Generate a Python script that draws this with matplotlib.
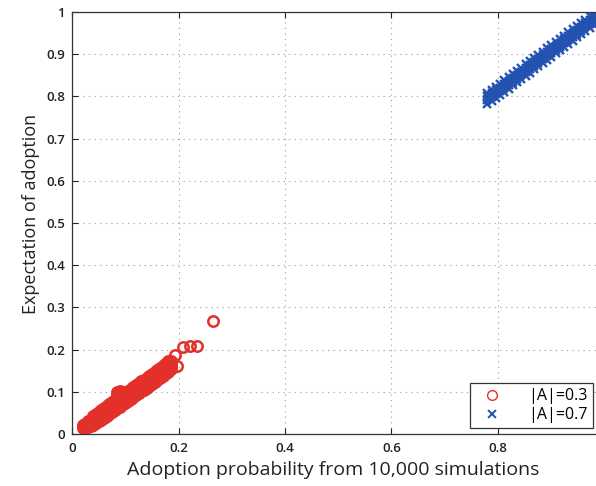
import numpy as np
import matplotlib
matplotlib.use("Agg")
import matplotlib.pyplot as plt
from matplotlib.lines import Line2D

plt.rcParams['font.family'] = ['Open Sans', 'DejaVu Sans']

# ── Data ────────────────────────────────────────────────────
# |A| = 0.3 : dense band near the origin (x column -> y values)
red_cols = [0.020, 0.025, 0.030, 0.035, 0.040, 0.045, 0.050, 0.055, 0.060,
            0.065, 0.070, 0.075, 0.080, 0.085, 0.090, 0.095, 0.100, 0.105,
            0.110, 0.115, 0.120, 0.125, 0.130, 0.135, 0.140, 0.145, 0.150,
            0.155, 0.160, 0.165, 0.170, 0.175, 0.180, 0.185]
red_rows = [[0.014, 0.018, 0.022],
            [0.014, 0.019, 0.024],
            [0.016, 0.021, 0.026, 0.030],
            [0.019, 0.024, 0.029, 0.034],
            [0.022, 0.028, 0.033, 0.038, 0.043],
            [0.026, 0.032, 0.037, 0.042, 0.047],
            [0.030, 0.036, 0.041, 0.046, 0.052],
            [0.034, 0.040, 0.046, 0.051, 0.056],
            [0.039, 0.045, 0.050, 0.056, 0.061],
            [0.043, 0.049, 0.055, 0.060, 0.066],
            [0.047, 0.053, 0.059, 0.065, 0.070],
            [0.052, 0.058, 0.064, 0.069, 0.075],
            [0.056, 0.062, 0.068, 0.074, 0.080],
            [0.061, 0.067, 0.073, 0.079, 0.086, 0.093, 0.099],
            [0.065, 0.071, 0.077, 0.083, 0.089, 0.095, 0.101],
            [0.070, 0.076, 0.082, 0.088, 0.094, 0.100],
            [0.074, 0.080, 0.086, 0.092, 0.098],
            [0.078, 0.084, 0.090, 0.096, 0.102],
            [0.083, 0.089, 0.095, 0.101, 0.107],
            [0.087, 0.093, 0.099, 0.105, 0.111],
            [0.092, 0.098, 0.104, 0.110, 0.116],
            [0.096, 0.102, 0.108, 0.114, 0.120],
            [0.101, 0.107, 0.113, 0.119, 0.125],
            [0.105, 0.111, 0.117, 0.123, 0.129],
            [0.109, 0.115, 0.121, 0.127, 0.133],
            [0.114, 0.120, 0.126, 0.132, 0.138],
            [0.118, 0.124, 0.130, 0.136, 0.142],
            [0.123, 0.129, 0.135, 0.141, 0.147],
            [0.127, 0.133, 0.139, 0.145, 0.151],
            [0.132, 0.138, 0.144, 0.150, 0.156],
            [0.137, 0.143, 0.148, 0.154, 0.160],
            [0.142, 0.148, 0.153, 0.159, 0.165],
            [0.148, 0.154, 0.160, 0.166, 0.172],
            [0.153, 0.160, 0.167, 0.174]]
red_out_x = [0.193, 0.197, 0.208, 0.222, 0.235, 0.265]
red_out_y = [0.187, 0.161, 0.206, 0.209, 0.209, 0.268]

# |A| = 0.7 : band near (1, 1)
blue_cols = [0.780, 0.788, 0.796, 0.804, 0.812, 0.820, 0.828, 0.836, 0.844,
             0.852, 0.860, 0.868, 0.876, 0.884, 0.892, 0.900, 0.908, 0.916,
             0.924, 0.932, 0.940, 0.948, 0.956, 0.964, 0.972, 0.980, 0.988]
blue_rows = [[0.783, 0.792, 0.801, 0.809], [0.789, 0.798, 0.807, 0.816],
             [0.796, 0.805, 0.814, 0.823], [0.803, 0.812, 0.821, 0.830],
             [0.811, 0.820, 0.829, 0.838], [0.818, 0.827, 0.836, 0.845],
             [0.826, 0.835, 0.844, 0.853], [0.833, 0.842, 0.851, 0.860],
             [0.841, 0.850, 0.859, 0.868], [0.849, 0.858, 0.867, 0.876],
             [0.856, 0.865, 0.874, 0.883], [0.864, 0.873, 0.882, 0.891],
             [0.871, 0.880, 0.889, 0.898], [0.879, 0.888, 0.897, 0.906],
             [0.887, 0.896, 0.905, 0.914], [0.894, 0.903, 0.912, 0.921],
             [0.902, 0.911, 0.920, 0.929], [0.909, 0.918, 0.927, 0.936],
             [0.917, 0.926, 0.935, 0.944], [0.925, 0.934, 0.943, 0.952],
             [0.932, 0.941, 0.950, 0.959], [0.940, 0.949, 0.958, 0.967],
             [0.947, 0.956, 0.965, 0.974], [0.955, 0.964, 0.973, 0.982],
             [0.963, 0.972, 0.981, 0.990], [0.970, 0.979, 0.988, 0.997],
             [0.978, 0.987, 0.996, 1.000]]

x_ticks = [0, 0.2, 0.4, 0.6, 0.8]
x_tick_labels = ["0", "0.2", "0.4", "0.6", "0.8"]
y_ticks = [0, 0.1, 0.2, 0.3, 0.4, 0.5, 0.6, 0.7, 0.8, 0.9, 1.0]
y_tick_labels = ["0", "0.1", "0.2", "0.3", "0.4", "0.5", "0.6", "0.7",
                 "0.8", "0.9", "1"]

red_x = np.concatenate([[c] * len(r) for c, r in zip(red_cols, red_rows)] + [red_out_x])
red_y = np.concatenate([r for r in red_rows] + [red_out_y])
blue_x = np.concatenate([[c] * len(r) for c, r in zip(blue_cols, blue_rows)])
blue_y = np.concatenate(blue_rows)

RED = '#e4302b'
BLUE = '#2352b0'
INK = '#222222'

fig = plt.figure(figsize=(5.96, 4.86), dpi=100)
# right edge of the axes runs past the figure, as in the cropped original
ax = fig.add_axes([72/596, 52/486, 532.5/596, 422/486])

ax.plot(red_x, red_y, 'o', mfc='none', mec=RED, ms=7.5, mew=1.8,
        linestyle='none')
ax.plot(blue_x, blue_y, 'x', color=BLUE, ms=5.5, mew=1.7, linestyle='none')

ax.set_xlim(0, 1)
ax.set_ylim(0, 1)
ax.set_xticks(x_ticks)
ax.set_xticklabels(x_tick_labels)
ax.set_yticks(y_ticks)
ax.set_yticklabels(y_tick_labels)
ax.tick_params(direction='in', top=True, right=True, length=4,
               labelsize=9.5, colors=INK)
ax.tick_params(axis='x', pad=6)
ax.tick_params(axis='y', pad=5)
for lbl in ax.get_xticklabels() + ax.get_yticklabels():
    lbl.set_fontweight('semibold')
ax.grid(True, linestyle=(0, (1, 4)), color='#9a9a9a', linewidth=0.8)
ax.set_axisbelow(True)
for s in ax.spines.values():
    s.set_color('#333333')
    s.set_linewidth(0.9)

ax.set_xlabel("Adoption probability from 10,000 simulations",
              fontsize=14, color=INK)
ax.xaxis.set_label_coords(0.49, -0.065)
ax.set_ylabel("Expectation of adoption", fontsize=13, color=INK)
ax.yaxis.set_label_coords(-0.06, 0.521)

# legend handles (thin ring / small cross, like the original key)
handles = [Line2D([], [], marker='o', mfc='none', mec=RED, ms=7, mew=1.0,
                  linestyle='none'),
           Line2D([], [], marker='x', color=BLUE, ms=5.5, mew=1.4,
                  linestyle='none')]
leg = ax.legend(handles, ['|A|=0.3', '|A|=0.7'], loc='lower right',
                bbox_to_anchor=(0.978, 0.014), borderaxespad=0,
                fancybox=False, framealpha=1, edgecolor='#333333',
                fontsize=11.5, handletextpad=1.2, borderpad=0.3,
                labelspacing=0.2, handlelength=2.2)
leg.get_frame().set_linewidth(0.9)

fig.savefig("out.png", dpi=100)
